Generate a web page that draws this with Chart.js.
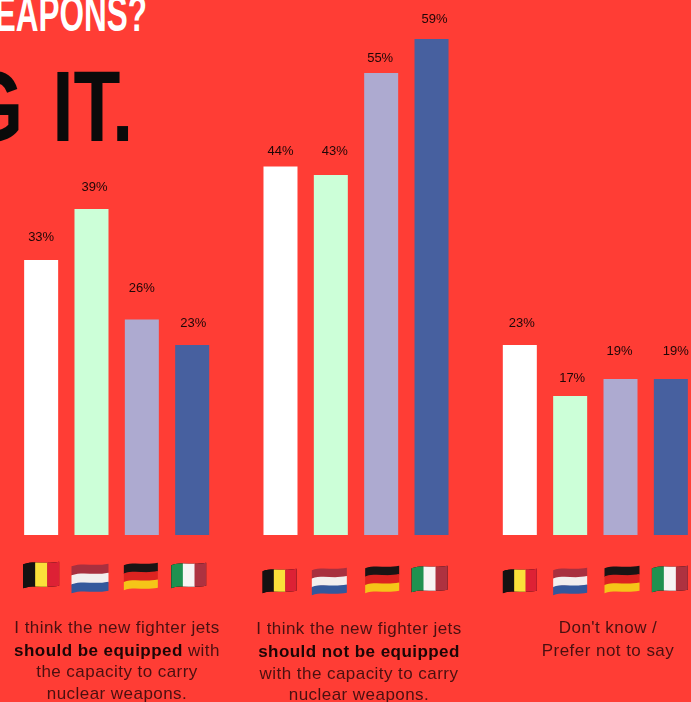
<!DOCTYPE html>
<html>
<head>
<meta charset="utf-8">
<title>Fighter jets poll</title>
<script src="https://cdn.jsdelivr.net/npm/chart.js@4"></script>
<style>
  html, body { margin: 0; padding: 0; background: #ff3d35; }
  #pagina { position: relative; width: 691px; height: 702px; overflow: hidden; background: #ff3d35; }
  #grafico { position: absolute; left: -3px; top: 0; }
  .titulo {
    position: absolute;
    white-space: nowrap;
    font-family: "Liberation Sans", sans-serif;
    font-weight: 700;
    transform-origin: right top;
  }
  #titulo1 { right: 544px; top: -15px; font-size: 50px; line-height: 58px; color: #fff; transform: scaleX(0.63); }
  #titulo2 { right: 558px; top: 48px; font-size: 101px; line-height: 116px; color: #0a0a0a; word-spacing: 10px; transform: scaleX(0.76); }
</style>
</head>
<body>
<div id="pagina">
  <div class="titulo" id="titulo1">WEAPONS?</div>
  <div class="titulo" id="titulo2">G IT.</div>
  <canvas id="grafico" width="718" height="702"></canvas>
</div>

<script>
// DADOS
const categorias = ['Should be equipped', 'Should not be equipped', "Don't know"];
const paises = ['Belgium', 'Netherlands', 'Germany', 'Italy'];
const belgica = [33, 44, 23];
const holanda = [39, 43, 17];
const alemanha = [26, 55, 19];
const italia = [23, 59, 19];

const legendas = [
  [['I think the new fighter jets'], [['should be equipped', true], [' with']], ['the capacity to carry'], ['nuclear weapons.']],
  [['I think the new fighter jets'], [['should not be equipped', true]], ['with the capacity to carry'], ['nuclear weapons.']],
  [["Don't know /"], ['Prefer not to say']]
];

// ESTILO
const coresBarras = ['#ffffff', '#ccffd8', '#adaad0', '#47609f'];
const tintaRotulo = '#1f0707';
const tintaTexto = '#4a1010';
const tintaNegrito = '#1c0606';

// deslocamento de cada rotulo em relacao a barra [dx, distancia acima do topo]
const ajusteRotulos = [
  [[0, 23], [3, 22], [0, 31], [1, 22]],
  [[0, 15.5], [4, 24], [-1, 15], [3, 20]],
  [[2, 22], [2, 18], [-1, 28], [5, 28]]
];

// caixa de cada bandeira: dx a partir do centro da barra, y do topo, largura, altura
const caixasBandeiras = [
  [[-18, 562, 36, 26], [-20, 565, 37, 27], [-18, 564, 34, 25], [-21, 563, 35, 25]],
  [[-18, 569, 34, 24], [-19, 569, 35, 25], [-16, 567, 34, 25], [-20, 566, 36, 26]],
  [[-17, 569, 34, 24], [-17, 569, 34, 25], [-16, 567, 35, 25], [-19, 566, 36, 26]]
];

const centroLegendas = [117, 359, 608];
const linhasLegendas = [
  [628, 651, 672, 694],
  [629, 652, 674, 695],
  [628, 651]
];

// BANDEIRAS
function bordaOndulada(ctx, x, y, w, onda) {
  ctx.bezierCurveTo(x + w * 0.3, y - onda, x + w * 0.6, y + onda * 0.6, x + w, y - onda * 0.5);
}

function bordaVolta(ctx, x, y, w, onda) {
  ctx.bezierCurveTo(x + w * 0.6, y + onda * 0.6, x + w * 0.3, y - onda, x, y + onda * 0.5);
}

function desenharBandeira(ctx, pais, x, y, w, h) {
  const onda = h * 0.1;
  const faixa = (y0, y1, cor) => {
    ctx.beginPath();
    ctx.moveTo(x, y0 + onda * 0.5);
    bordaOndulada(ctx, x, y0, w, onda);
    ctx.lineTo(x + w, y1 - onda * 0.5);
    bordaVolta(ctx, x, y1, w, onda);
    ctx.closePath();
    ctx.fillStyle = cor;
    ctx.fill();
  };

  ctx.save();
  if (pais === 'Netherlands' || pais === 'Germany') {
    const cores = pais === 'Netherlands'
      ? ['#a8303f', '#f2eeee', '#34589c']
      : ['#1a1414', '#dd2320', '#f5c518'];
    const alt = h / 3;
    cores.forEach((c, i) => faixa(y + alt * i, y + alt * (i + 1) + (i < 2 ? 0.5 : 0), c));
  } else {
    const cores = pais === 'Belgium'
      ? ['#151212', '#fbe03a', '#dd2135']
      : ['#1f9150', '#f7f4f4', '#ae3240'];
    faixa(y + 1, y + h - 1, '#000');
    ctx.clip();
    cores.forEach((c, i) => {
      ctx.fillStyle = c;
      ctx.fillRect(x + (w / 3) * i, y - 2, w / 3 + 0.5, h + 4);
    });
  }
  ctx.restore();
}

const pluginBandeiras = {
  id: 'bandeiras',
  afterDatasetsDraw(chart) {
    const ctx = chart.ctx;
    paises.forEach((pais, d) => {
      chart.getDatasetMeta(d).data.forEach((barra, g) => {
        const [dx, y, w, h] = caixasBandeiras[g][d];
        desenharBandeira(ctx, pais, barra.x + dx, y, w, h);
      });
    });
  }
};

// ROTULOS DE PORCENTAGEM
const pluginRotulos = {
  id: 'rotulos',
  afterDatasetsDraw(chart) {
    const ctx = chart.ctx;
    ctx.save();
    ctx.font = '13px "Liberation Sans", sans-serif';
    ctx.fillStyle = tintaRotulo;
    ctx.textAlign = 'center';
    ctx.textBaseline = 'middle';
    chart.data.datasets.forEach((ds, d) => {
      chart.getDatasetMeta(d).data.forEach((barra, g) => {
        const [dx, acima] = ajusteRotulos[g][d];
        ctx.fillText(ds.data[g] + '%', barra.x + dx, barra.y - acima);
      });
    });
    ctx.restore();
  }
};

// TEXTOS ABAIXO DAS BANDEIRAS
const pluginLegendas = {
  id: 'legendas',
  afterDatasetsDraw(chart) {
    const ctx = chart.ctx;
    const fonte = (negrito) => (negrito ? 'bold ' : '') + '17px "Liberation Sans", sans-serif';
    const deslocX = chart.canvas.offsetLeft;
    ctx.save();
    ctx.letterSpacing = '0.45px';
    ctx.textBaseline = 'middle';
    ctx.textAlign = 'left';
    legendas.forEach((linhas, g) => {
      linhas.forEach((partes, l) => {
        const trechos = partes.map(p => Array.isArray(p) ? p : [p, false]);
        let largura = 0;
        trechos.forEach(([t, b]) => {
          ctx.font = fonte(b);
          largura += ctx.measureText(t).width;
        });
        let x = centroLegendas[g] - deslocX - largura / 2;
        trechos.forEach(([t, b]) => {
          ctx.font = fonte(b);
          ctx.fillStyle = b ? tintaNegrito : tintaTexto;
          ctx.fillText(t, x, linhasLegendas[g][l]);
          x += ctx.measureText(t).width;
        });
      });
    });
    ctx.restore();
  }
};

// GRAFICO
const series = [belgica, holanda, alemanha, italia];

new Chart(document.getElementById('grafico').getContext('2d'), {
  type: 'bar',
  data: {
    labels: categorias,
    datasets: paises.map((p, i) => ({
      label: p,
      data: series[i],
      backgroundColor: coresBarras[i],
      categoryPercentage: 0.8414,
      barPercentage: 0.6755
    }))
  },
  options: {
    responsive: false,
    animation: false,
    layout: { padding: { top: 30.5, bottom: 167, left: 0, right: 0 } },
    plugins: {
      legend: { display: false },
      tooltip: { enabled: false }
    },
    scales: {
      x: { display: false },
      y: { display: false, min: 0.65, max: 60 }
    }
  },
  plugins: [pluginBandeiras, pluginRotulos, pluginLegendas]
});
</script>
</body>
</html>
